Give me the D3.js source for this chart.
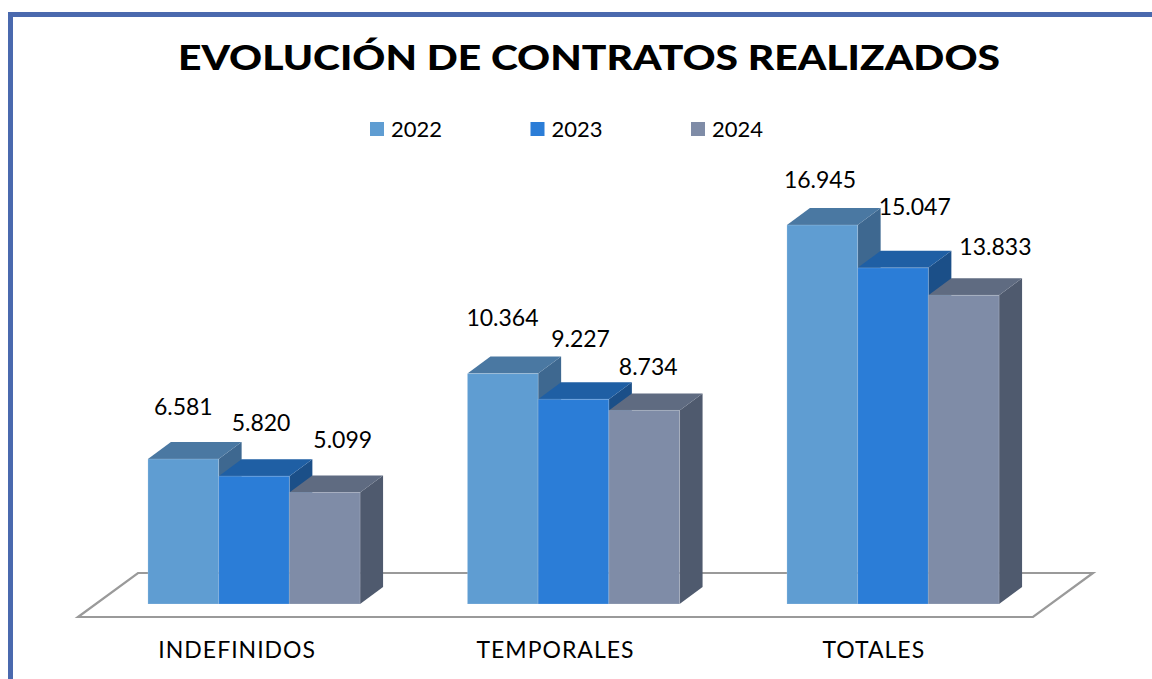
<!DOCTYPE html>
<html>
<head>
<meta charset="utf-8">
<script src="https://cdn.jsdelivr.net/npm/d3@7/dist/d3.min.js"></script>
<style>
  html, body { margin: 0; padding: 0; background: #ffffff; }
  svg { display: block; }
  text { font-family: Lato, "Open Sans", "DejaVu Sans", sans-serif; fill: #000; }
</style>
</head>
<body>
<svg id="chart" width="1152" height="679"></svg>
<script>
// ---- data ----
const categories = ["INDEFINIDOS", "TEMPORALES", "TOTALES"];
const seriesNames = ["2022", "2023", "2024"];
const values2022 = [6581, 10364, 16945];
const values2023 = [5820, 9227, 15047];
const values2024 = [5099, 8734, 13833];
const titleText = "EVOLUCIÓN DE CONTRATOS REALIZADOS";

// ---- layout / style constants ----
const W = 1152, H = 679;
const frontColors = ["#5f9dd2", "#2b7dd7", "#7f8ca7"];
const topColors   = ["#4a78a2", "#1f5fa4", "#5f6b81"];
const sideColors  = ["#3e6890", "#1b4f88", "#4f5a6e"];
const depthDx = 23, depthDy = -17;
const baseY = 604;
const floorFront = 617, floorDx = 60, floorDy = -44;
const floorLeft = 78, floorRight = 1033;
// label nudges per category (rows) x series (cols): [dx from bar left, height above bar top]
const labelNudge = [
  [[6, 44], [13, 45], [24, 44]],
  [[-1, 48], [13, 52], [10, 35]],
  [[-3, 37], [21, 53], [31, 40]]
];

const svg = d3.select("#chart");
const fmt = d3.formatLocale({ decimal: ",", thousands: ".", grouping: [3], currency: ["", "€"] }).format(",d");

const seriesValues = [values2022, values2023, values2024];
const data = categories.map((c, ci) => ({
  cat: c,
  items: seriesNames.map((s, si) => ({ series: s, si, ci, value: seriesValues[si][ci] }))
}));

// scales
const x0 = d3.scaleBand().domain(categories).range([94.25, 1052.75]).paddingInner(0.336).paddingOuter(0.168);
const x1 = d3.scaleBand().domain(seriesNames).range([0, x0.bandwidth()]).padding(0);
const y = d3.scaleLinear().domain([0, 18000]).range([607.6, 201.2]);
const xFloor = d3.scaleBand().domain(categories).range([floorLeft, floorRight]);

// frame
svg.append("rect")
  .attr("x", 10.5).attr("y", 14.5)
  .attr("width", W + 20).attr("height", H + 20)
  .attr("fill", "none").attr("stroke", "#4a69ae").attr("stroke-width", 5);

// title
svg.append("text")
  .attr("x", 589).attr("y", 70)
  .attr("text-anchor", "middle")
  .attr("font-size", 34).attr("font-weight", 900)
  .attr("textLength", 822).attr("lengthAdjust", "spacingAndGlyphs")
  .text(titleText);

// legend
const legend = svg.append("g");
seriesNames.forEach((s, i) => {
  const lx = 370 + i * 160.5;
  legend.append("rect").attr("x", lx).attr("y", 122).attr("width", 14).attr("height", 14).attr("fill", frontColors[i]);
  legend.append("text").attr("x", lx + 21).attr("y", 137).attr("font-size", 22).text(s);
});

// floor
const floorPts = [
  [floorLeft, floorFront], [floorRight, floorFront],
  [floorRight + floorDx, floorFront + floorDy], [floorLeft + floorDx, floorFront + floorDy]
];
svg.append("polygon")
  .attr("points", floorPts.map(p => p.join(",")).join(" "))
  .attr("fill", "#ffffff").attr("stroke", "#9a9a9a").attr("stroke-width", 2.2)
  .attr("stroke-linejoin", "miter");

// bars
const groups = svg.selectAll("g.cat").data(data).join("g").attr("class", "cat")
  .attr("transform", d => `translate(${x0(d.cat)},0)`);

groups.each(function(d) {
  const g = d3.select(this);
  d.items.forEach(it => {
    const xl = x1(it.series), xr = xl + x1.bandwidth();
    const yt = y(it.value);
    // side face
    g.append("polygon")
      .attr("points", [[xr, yt], [xr + depthDx, yt + depthDy], [xr + depthDx, baseY + depthDy], [xr, baseY]].map(p => p.join(",")).join(" "))
      .attr("fill", sideColors[it.si]);
    // top face
    g.append("polygon")
      .attr("points", [[xl, yt], [xl + depthDx, yt + depthDy], [xr + depthDx, yt + depthDy], [xr, yt]].map(p => p.join(",")).join(" "))
      .attr("fill", topColors[it.si]);
    // front face
    g.append("rect")
      .attr("x", xl).attr("y", yt)
      .attr("width", x1.bandwidth()).attr("height", baseY - yt)
      .attr("fill", frontColors[it.si])
      .attr("stroke", "rgba(255,255,255,0.18)").attr("stroke-width", 1);
  });
});

// value labels
data.forEach(d => {
  d.items.forEach(it => {
    const nd = labelNudge[it.ci][it.si];
    svg.append("text")
      .attr("x", x0(d.cat) + x1(it.series) + nd[0])
      .attr("y", y(it.value) - nd[1])
      .attr("font-size", 23)
      .text(fmt(it.value));
  });
});

// category labels
svg.selectAll("text.cat").data(categories).join("text")
  .attr("class", "cat")
  .attr("x", c => xFloor(c) + xFloor.bandwidth() / 2)
  .attr("y", 658)
  .attr("text-anchor", "middle")
  .attr("font-size", 23)
  .attr("letter-spacing", 1)
  .text(c => c);
</script>
</body>
</html>
